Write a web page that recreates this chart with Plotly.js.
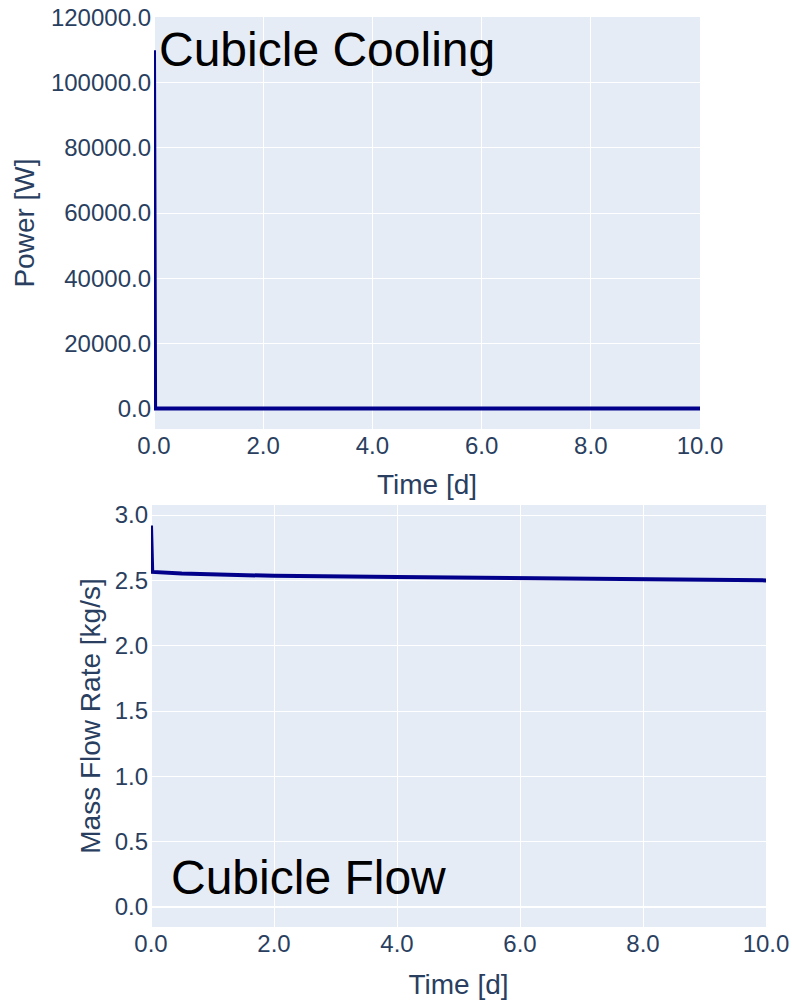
<!DOCTYPE html>
<html>
<head>
<meta charset="utf-8">
<script src="https://cdn.plot.ly/plotly-3.0.1.min.js"></script>
<style>html,body{margin:0;padding:0;background:#fff;}#chart{width:792px;height:1003px;}</style>
</head>
<body>
<div id="chart"></div>
<script>
// Top panel: Cubicle Cooling
const coolTime = [0, 0.02, 1, 2, 3, 4, 5, 6, 7, 8, 9, 10];
const coolPower = [110000, 0, 0, 0, 0, 0, 0, 0, 0, 0, 0, 0];
// Bottom panel: Cubicle Flow
const flowTime = [0, 0.02, 0.5, 1, 2, 4, 6, 8, 10];
const flowRate = [2.92, 2.565, 2.552, 2.545, 2.535, 2.525, 2.515, 2.508, 2.50];

const powerTicks = [0, 20000, 40000, 60000, 80000, 100000, 120000];
const timeTicks = [0, 2, 4, 6, 8, 10];
const flowTicks = [0, 0.5, 1, 1.5, 2, 2.5, 3];

const FONT = '"Liberation Sans", Arial, sans-serif';
const TICKC = '#2a3f5f';
const LINEC = '#00008B';

const traces = [
  {x: coolTime, y: coolPower, type: 'scatter', mode: 'lines', xaxis: 'x', yaxis: 'y',
   line: {color: LINEC, width: 4}, showlegend: false},
  {x: flowTime, y: flowRate, type: 'scatter', mode: 'lines', xaxis: 'x2', yaxis: 'y2',
   line: {color: LINEC, width: 4}, showlegend: false}
];

const W = 792, H = 1003;
function px(v){return v / W;}
function py(v){return 1 - v / H;}

const axCommon = {
  gridcolor: 'white', zerolinecolor: 'white', zerolinewidth: 2,
  tickfont: {family: FONT, size: 24, color: TICKC},
  showline: false, ticks: '', automargin: false
};

const layout = {
  width: W, height: H, autosize: false,
  margin: {l: 0, r: 0, t: 0, b: 0},
  paper_bgcolor: 'white', plot_bgcolor: '#E5ECF6',
  font: {family: FONT, color: TICKC},
  showlegend: false,
  xaxis: Object.assign({}, axCommon, {
    domain: [px(154), px(700)], anchor: 'y', range: [0, 10],
    tickvals: timeTicks, tickformat: '.1f',
    title: {text: 'Time [d]', font: {family: FONT, size: 28, color: TICKC}, standoff: 16}
  }),
  yaxis: Object.assign({}, axCommon, {
    domain: [py(429), py(17)], anchor: 'x', range: [-6300, 120200],
    tickvals: powerTicks, tickformat: '.1f', ticklabelstandoff: 2,
    title: {text: 'Power [W]', font: {family: FONT, size: 28, color: TICKC}, standoff: 8}
  }),
  xaxis2: Object.assign({}, axCommon, {
    domain: [px(151), px(766)], anchor: 'y2', range: [0, 10],
    tickvals: timeTicks, tickformat: '.1f',
    title: {text: 'Time [d]', font: {family: FONT, size: 28, color: TICKC}, standoff: 18}
  }),
  yaxis2: Object.assign({}, axCommon, {
    domain: [py(927), py(505)], anchor: 'x2', range: [-0.153, 3.077],
    tickvals: flowTicks, tickformat: '.1f', ticklabelstandoff: 2,
    title: {text: 'Mass Flow Rate [kg/s]', font: {family: FONT, size: 28, color: TICKC}, standoff: 5}
  }),
  annotations: [
    {text: 'Cubicle Cooling', xref: 'paper', yref: 'paper', x: px(157), y: py(50),
     xanchor: 'left', yanchor: 'middle', showarrow: false,
     font: {family: FONT, size: 48, color: 'black'}},
    {text: 'Cubicle Flow', xref: 'paper', yref: 'paper', x: px(169), y: py(877),
     xanchor: 'left', yanchor: 'middle', showarrow: false,
     font: {family: FONT, size: 48, color: 'black'}}
  ]
};

Plotly.newPlot('chart', traces, layout, {displayModeBar: false, staticPlot: true});
</script>
</body>
</html>
